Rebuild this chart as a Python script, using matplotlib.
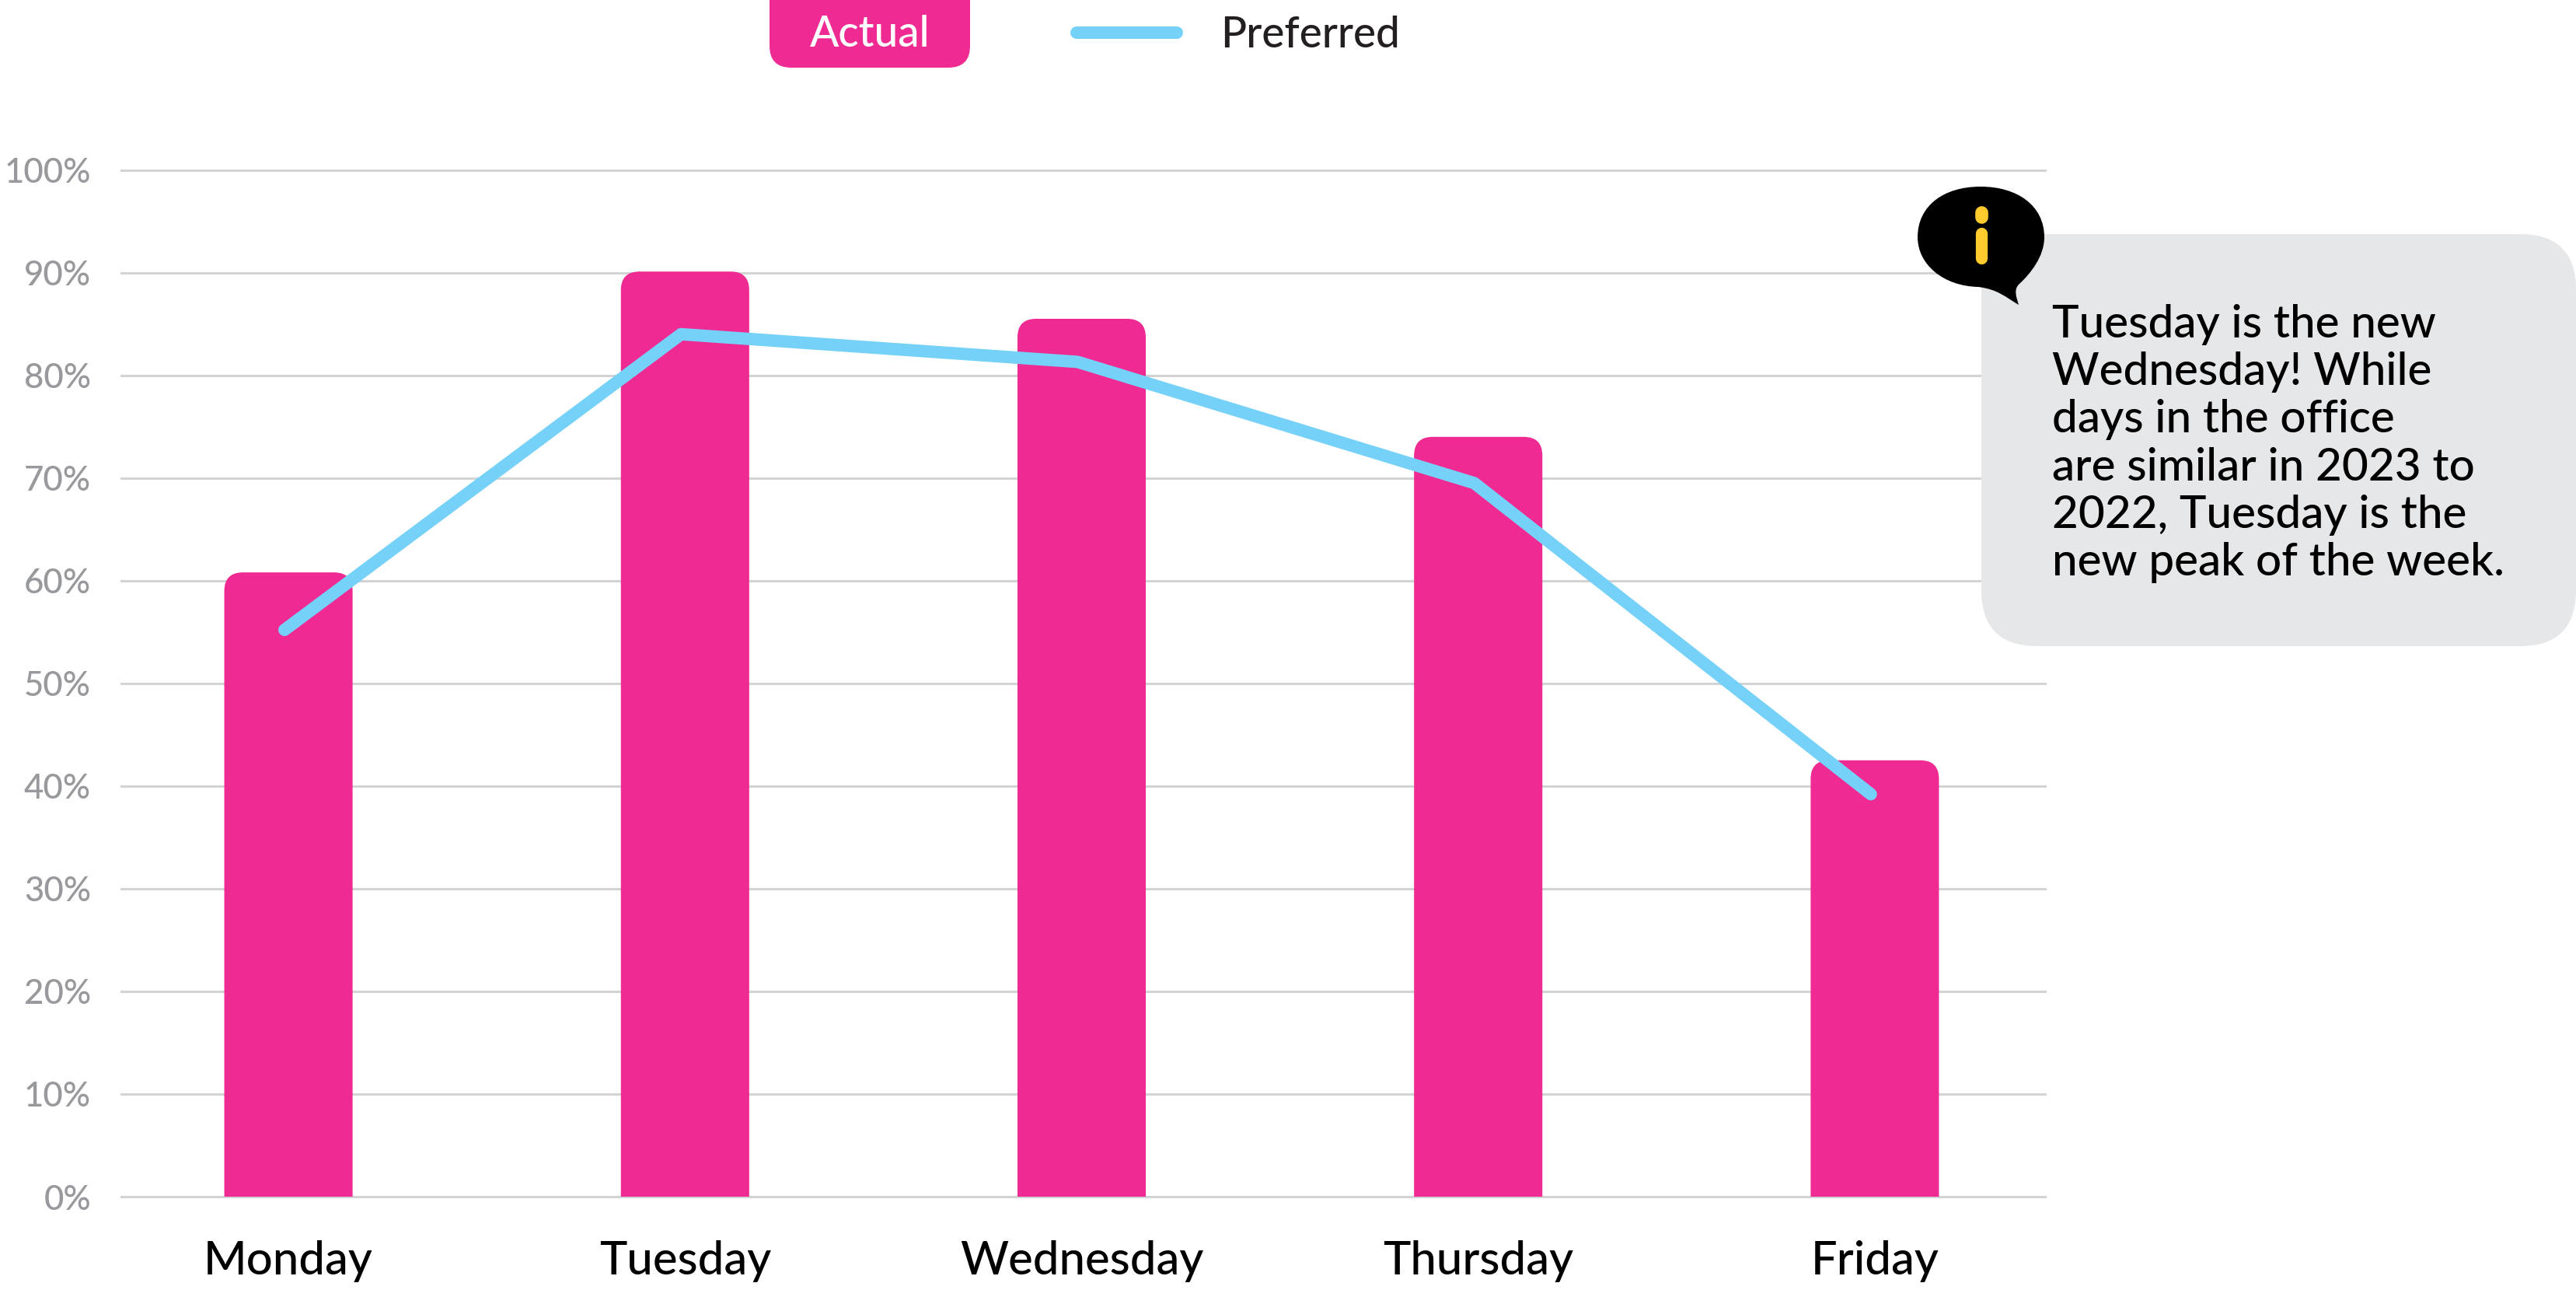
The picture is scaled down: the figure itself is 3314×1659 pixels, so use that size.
import matplotlib
matplotlib.use("Agg")
import matplotlib.pyplot as plt
from matplotlib.patches import FancyBboxPatch, PathPatch
from matplotlib.path import Path

days = ["Monday", "Tuesday", "Wednesday", "Thursday", "Friday"]
actual = [60.8, 90.1, 85.5, 74.0, 42.5]
preferred = [55.2, 84.0, 81.3, 69.5, 39.2]
y_ticks = [0, 10, 20, 30, 40, 50, 60, 70, 80, 90, 100]
note_lines = ["Tuesday is the new", "Wednesday! While", "days in the office",
              "are similar in 2023 to", "2022, Tuesday is the", "new peak of the week."]

PINK = "#ef2a92"
BLUE = "#75d1f8"
GRID = "#d1d3d4"
GREY = "#98999c"
W, H = 3314, 1659

plt.rcParams['font.family'] = ['Lato', 'DejaVu Sans']

fig = plt.figure(figsize=(W / 100, H / 100), dpi=100)
top, bottom, left, right = 218.5, 1539, 156, 2631
ax = fig.add_axes([left / W, 1 - bottom / H, (right - left) / W, (bottom - top) / H])

slot = 510  # px between bars
px_y = (bottom - top) / 100
x = list(range(len(days)))

ax.set_xlim(-(371 - left) / slot, 4 + (right - 2412) / slot)
ax.set_ylim(0, 100)


def rounded_bar(cx, val, width=165 / slot, rx=24 / slot, ry=24 / px_y):
    l, r = cx - width / 2, cx + width / 2
    verts = [(l, 0), (l, val - ry), (l, val), (l + rx, val), (r - rx, val), (r, val),
             (r, val - ry), (r, 0), (l, 0)]
    codes = [Path.MOVETO, Path.LINETO, Path.CURVE3, Path.CURVE3, Path.LINETO,
             Path.CURVE3, Path.CURVE3, Path.LINETO, Path.CLOSEPOLY]
    return PathPatch(Path(verts, codes), fc=PINK, ec="none", zorder=2)


for i, v in zip(x, actual):
    ax.add_patch(rounded_bar(i, v))

ax.plot([i - 0.01 for i in x], preferred, color=BLUE, lw=11.5, solid_capstyle="round",
        solid_joinstyle="round", zorder=3)

ax.set_yticks(y_ticks)
ax.set_yticklabels([f"{t}%" for t in y_ticks], fontsize=31.5, color=GREY, fontweight="medium")
ax.set_xticks(x)
ax.set_xticklabels(days, fontsize=43, color="black", fontweight="medium")
ax.tick_params(axis="y", length=0, pad=28)
ax.tick_params(axis="x", length=0, pad=40)
ax.grid(axis="y", color=GRID, lw=2.2, zorder=1)
ax.set_axisbelow(True)
for line in ax.get_ygridlines():
    line.set_clip_on(False)
for s in ax.spines.values():
    s.set_visible(False)

# overlay in pixel coords for legend and callout
ov = fig.add_axes([0, 0, 1, 1], zorder=5)
ov.set_xlim(0, W)
ov.set_ylim(H, 0)
ov.axis("off")
ov.patch.set_alpha(0)

ov.add_patch(FancyBboxPatch((990, -30), 258, 117, boxstyle="round,pad=0,rounding_size=28",
                            fc=PINK, ec="none"))
ov.text(1119, 60, "Actual", color="white", fontsize=39.5, ha="center", va="baseline", fontweight="medium")
ov.plot([1385, 1514], [42, 42], color=BLUE, lw=11.5, solid_capstyle="round")
ov.text(1570, 61, "Preferred", color="#231f20", fontsize=39.5, ha="left", va="baseline", fontweight="medium")

ov.add_patch(FancyBboxPatch((2549, 301), 765, 530, boxstyle="round,pad=0,rounding_size=72",
                            fc="#e6e7e8", ec="none"))
for n, txt in enumerate(note_lines):
    ov.text(2640, 434 + n * 61.2, txt, fontsize=42, color="black", ha="left", va="baseline", fontweight="medium")

# info bubble
bubble = [(2548, 240),
          (2596, 240), (2630, 265), (2630, 305),
          (2630, 330), (2612, 352), (2598, 365),
          (2590, 372), (2594, 382), (2597, 392),
          (2580, 382), (2570, 372), (2545, 369),
          (2500, 368), (2467, 340), (2467, 305),
          (2467, 265), (2500, 240), (2548, 240)]
codes = [Path.MOVETO] + [Path.CURVE4] * 18
ov.add_patch(PathPatch(Path(bubble, codes), fc="black", ec="none"))
ov.plot([2549, 2549], [273, 279], color="#ffca2c", lw=12, solid_capstyle="round")
ov.plot([2549, 2549], [300, 332], color="#ffca2c", lw=11, solid_capstyle="round")

fig.savefig("out.png", dpi=100)
